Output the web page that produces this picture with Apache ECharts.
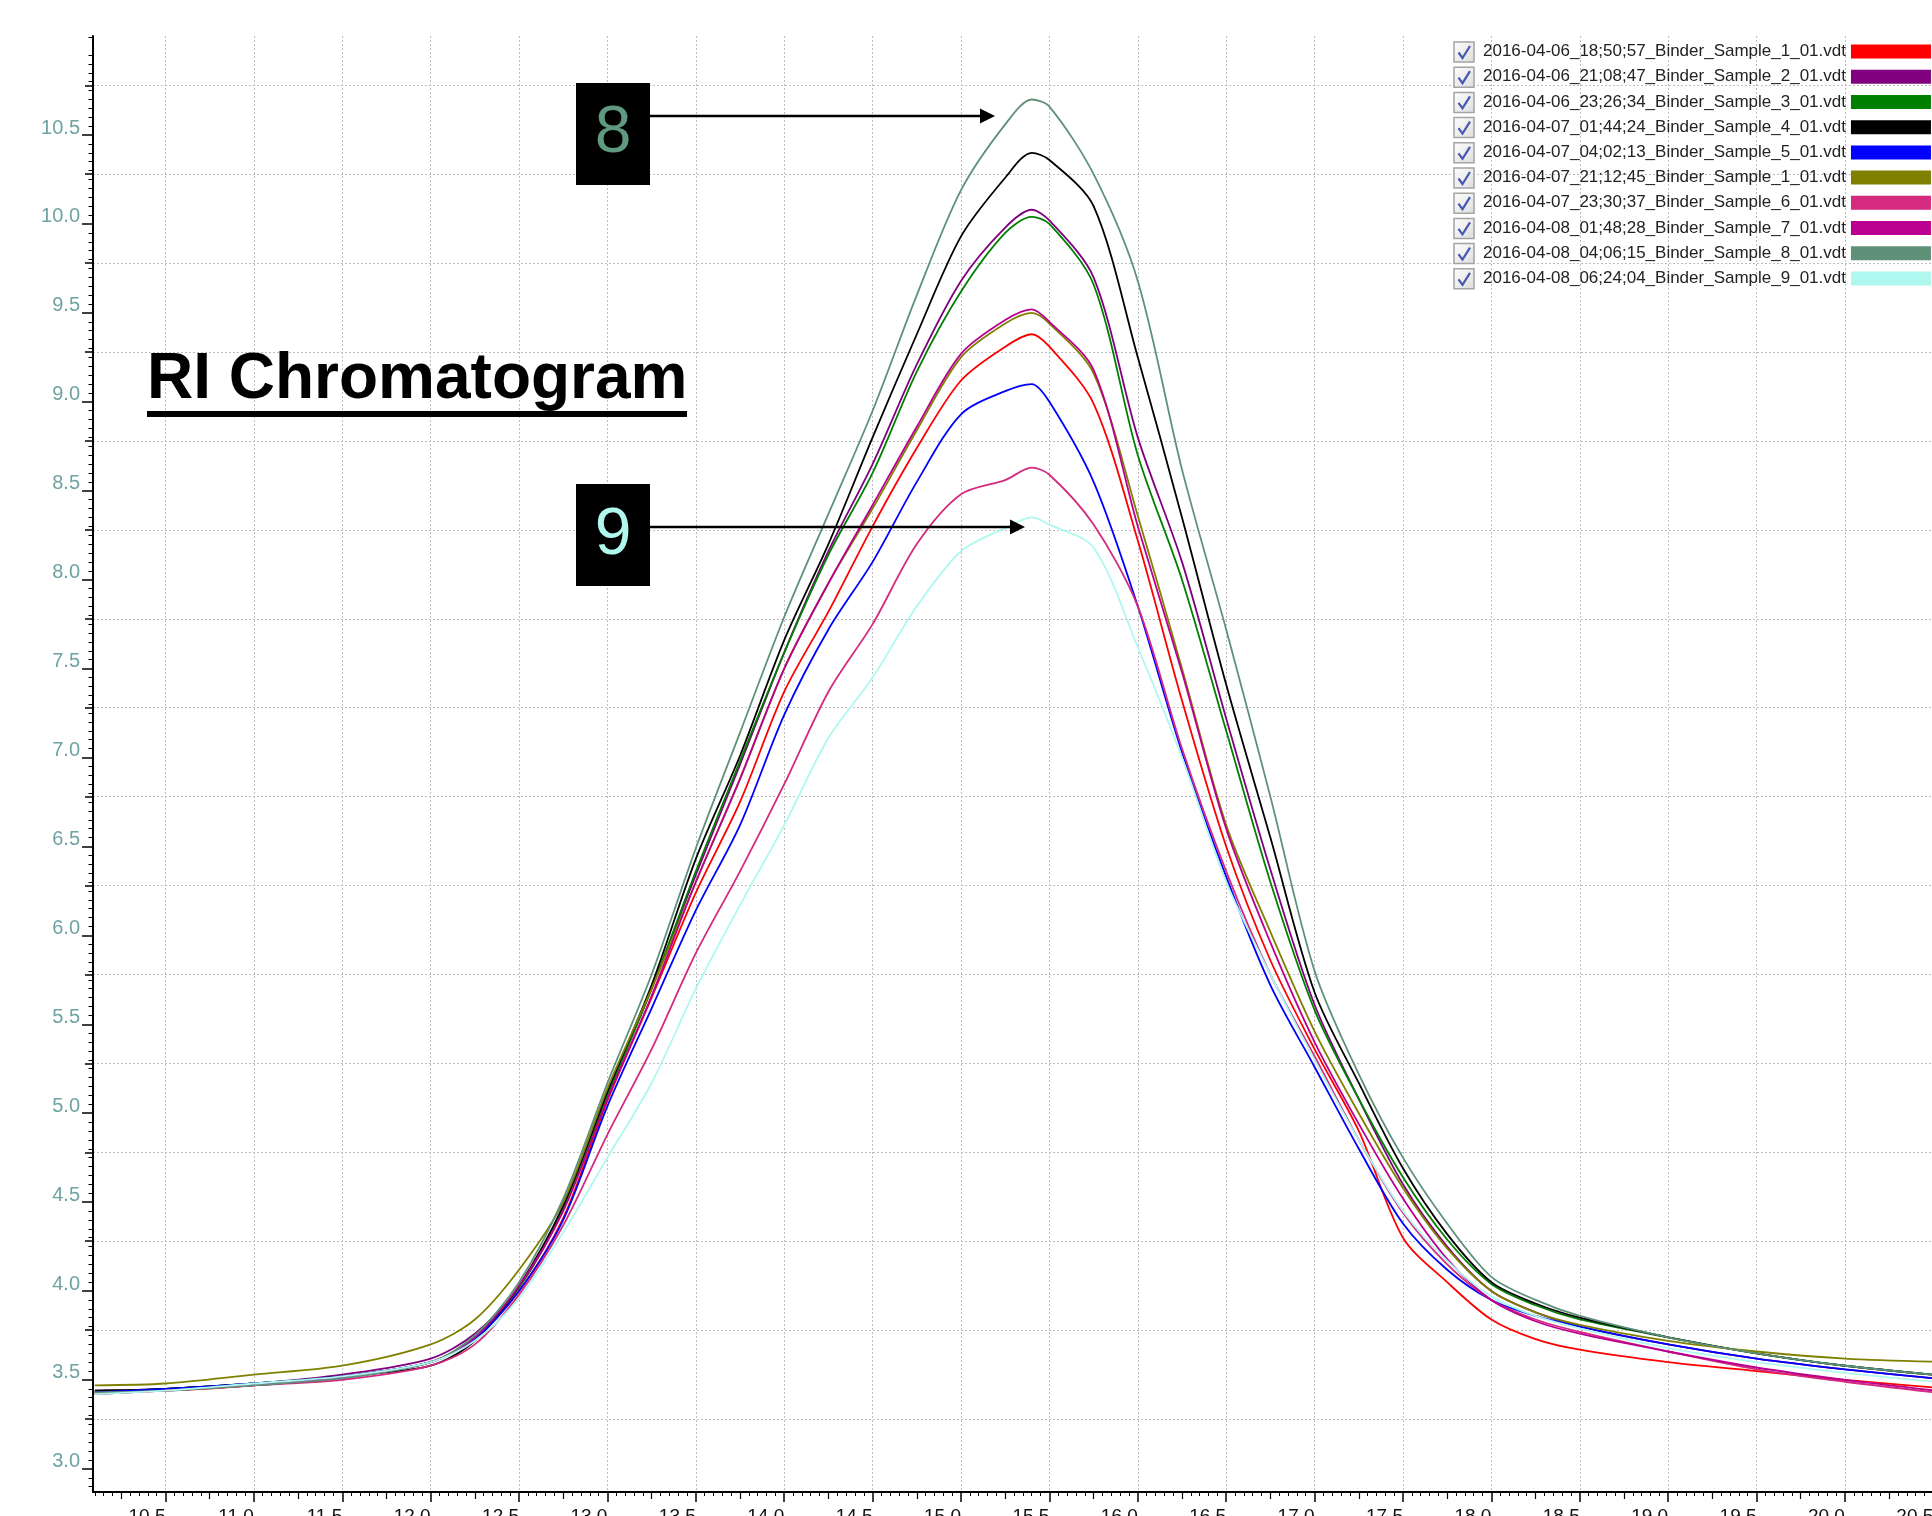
<!DOCTYPE html>
<html lang="en">
<head>
<meta charset="UTF-8">
<title>RI Chromatogram</title>
<style>
    html, body { margin: 0; padding: 0; background: #fff; overflow: hidden; }
    #chart { width: 1932px; height: 1516px; }
</style>
</head>
<body>
<div id="chart"></div>
<script src="https://cdn.jsdelivr.net/npm/echarts@6/dist/echarts.min.js"></script>
<script>
// retention time (x) sample points
const times = [10.1, 10.5, 11.0, 11.5, 12.0, 12.25, 12.5, 12.75, 13.0, 13.25, 13.5, 13.75, 14.0, 14.25, 14.5, 14.75,
    15.0, 15.25, 15.4, 15.5, 15.75, 16.0, 16.25, 16.5, 16.75, 17.0, 17.25, 17.5, 17.75, 18.0, 18.25, 18.5, 19.0, 19.5, 20.0, 20.6];

const s1a = [3.43, 3.44, 3.47, 3.52, 3.60, 3.74, 4.00, 4.41, 5.07, 5.65, 6.24, 6.75, 7.37, 7.82, 8.30, 8.74,
    9.12, 9.31, 9.38, 9.31, 8.99, 8.22, 7.32, 6.50, 5.86, 5.36, 4.90, 4.30, 4.05, 3.84, 3.73, 3.67, 3.60, 3.55, 3.50, 3.45];
const s2 = [3.44, 3.45, 3.48, 3.53, 3.62, 3.76, 4.02, 4.46, 5.10, 5.70, 6.34, 6.96, 7.59, 8.16, 8.65, 9.21,
    9.68, 9.98, 10.08, 10.02, 9.70, 8.80, 8.10, 7.22, 6.37, 5.61, 5.08, 4.60, 4.25, 4.00, 3.88, 3.80, 3.70, 3.62, 3.56, 3.50];
const s3 = [3.43, 3.45, 3.48, 3.52, 3.60, 3.74, 4.02, 4.46, 5.10, 5.70, 6.36, 6.98, 7.59, 8.14, 8.60, 9.17,
    9.62, 9.95, 10.04, 10.00, 9.66, 8.70, 8.00, 7.15, 6.30, 5.58, 5.08, 4.64, 4.29, 4.04, 3.92, 3.84, 3.74, 3.65, 3.58, 3.52];
const s4 = [3.44, 3.45, 3.48, 3.52, 3.58, 3.72, 4.03, 4.48, 5.12, 5.72, 6.43, 7.01, 7.66, 8.20, 8.80, 9.38,
    9.93, 10.26, 10.40, 10.36, 10.10, 9.25, 8.35, 7.41, 6.55, 5.68, 5.17, 4.69, 4.32, 4.05, 3.93, 3.85, 3.74, 3.65, 3.58, 3.52];
const s5 = [3.43, 3.45, 3.48, 3.52, 3.60, 3.73, 4.00, 4.40, 5.04, 5.59, 6.14, 6.62, 7.24, 7.72, 8.10, 8.55,
    8.93, 9.06, 9.10, 9.00, 8.55, 7.85, 7.03, 6.33, 5.72, 5.26, 4.80, 4.38, 4.12, 3.95, 3.86, 3.80, 3.70, 3.62, 3.56, 3.50];
const s1b = [3.47, 3.48, 3.53, 3.58, 3.70, 3.84, 4.12, 4.50, 5.14, 5.70, 6.30, 6.88, 7.50, 7.98, 8.40, 8.84,
    9.25, 9.44, 9.50, 9.44, 9.16, 8.36, 7.50, 6.62, 6.02, 5.46, 5.00, 4.58, 4.24, 4.00, 3.88, 3.81, 3.72, 3.66, 3.62, 3.60];
const s6 = [3.42, 3.44, 3.47, 3.50, 3.58, 3.70, 3.98, 4.37, 4.88, 5.36, 5.90, 6.36, 6.85, 7.37, 7.75, 8.20,
    8.48, 8.56, 8.63, 8.59, 8.31, 7.85, 7.05, 6.36, 5.78, 5.32, 4.85, 4.44, 4.15, 3.95, 3.84, 3.77, 3.66, 3.56, 3.49, 3.42];
const s7 = [3.42, 3.44, 3.47, 3.51, 3.60, 3.74, 4.03, 4.45, 5.08, 5.66, 6.30, 6.88, 7.50, 7.98, 8.42, 8.86,
    9.27, 9.46, 9.52, 9.45, 9.18, 8.30, 7.48, 6.60, 5.96, 5.40, 4.94, 4.52, 4.18, 3.95, 3.83, 3.76, 3.66, 3.57, 3.50, 3.43];
const s8 = [3.43, 3.44, 3.47, 3.51, 3.60, 3.75, 4.05, 4.52, 5.17, 5.78, 6.49, 7.14, 7.79, 8.37, 8.95, 9.60,
    10.19, 10.56, 10.70, 10.66, 10.28, 9.68, 8.62, 7.72, 6.78, 5.80, 5.22, 4.75, 4.38, 4.08, 3.95, 3.86, 3.74, 3.65, 3.58, 3.52];
const s9 = [3.42, 3.44, 3.48, 3.52, 3.60, 3.72, 3.96, 4.33, 4.75, 5.17, 5.70, 6.17, 6.62, 7.11, 7.45, 7.85,
    8.16, 8.29, 8.35, 8.31, 8.18, 7.62, 7.00, 6.30, 5.78, 5.30, 4.85, 4.45, 4.17, 3.97, 3.86, 3.79, 3.68, 3.60, 3.54, 3.48];

const seriesNames = [
    '2016-04-06_18;50;57_Binder_Sample_1_01.vdt',
    '2016-04-06_21;08;47_Binder_Sample_2_01.vdt',
    '2016-04-06_23;26;34_Binder_Sample_3_01.vdt',
    '2016-04-07_01;44;24_Binder_Sample_4_01.vdt',
    '2016-04-07_04;02;13_Binder_Sample_5_01.vdt',
    '2016-04-07_21;12;45_Binder_Sample_1_01.vdt',
    '2016-04-07_23;30;37_Binder_Sample_6_01.vdt',
    '2016-04-08_01;48;28_Binder_Sample_7_01.vdt',
    '2016-04-08_04;06;15_Binder_Sample_8_01.vdt',
    '2016-04-08_06;24;04_Binder_Sample_9_01.vdt'
];
const seriesValues = [s1a, s2, s3, s4, s5, s1b, s6, s7, s8, s9];
const seriesColors = ['#ff0000', '#800080', '#008000', '#000000', '#0000ff',
    '#808000', '#d42a7f', '#bb0090', '#5f9179', '#aef8ef'];

// tick labels
const yLabelTicks = [3.0, 3.5, 4.0, 4.5, 5.0, 5.5, 6.0, 6.5, 7.0, 7.5, 8.0, 8.5, 9.0, 9.5, 10.0, 10.5];
const yGridTicks = [3.28, 3.78, 4.28, 4.78, 5.28, 5.78, 6.28, 6.78, 7.28, 7.78, 8.28, 8.78, 9.28, 9.78, 10.28, 10.78];
const xLabelTicks = [10.5, 11.0, 11.5, 12.0, 12.5, 13.0, 13.5, 14.0, 14.5, 15.0, 15.5, 16.0, 16.5, 17.0, 17.5,
    18.0, 18.5, 19.0, 19.5, 20.0, 20.5];
const xMidTicks = [10.25, 10.75, 11.25, 11.75, 12.25, 12.75, 13.25, 13.75, 14.25, 14.75, 15.25, 15.75, 16.25,
    16.75, 17.25, 17.75, 18.25, 18.75, 19.25, 19.75, 20.25];

const FONT = "'Liberation Sans', Arial, sans-serif";
const X_MIN = 10.09, X_MAX = 20.6, Y_MIN = 2.87, Y_MAX = 11.057;

let myChart = echarts.init(document.getElementById('chart'));

let series = seriesValues.map((vals, i) => ({
    name: seriesNames[i],
    type: 'line',
    data: times.map((t, k) => [t, vals[k]]),
    showSymbol: false,
    smooth: 0.3,
    color: seriesColors[i],
    lineStyle: { width: 1.8 },
    emphasis: { disabled: true }
}));

// legend check boxes
let boxes = [];
for (let i = 0; i < seriesNames.length; i++) {
    let c = 52 + 25.2 * i;
    boxes.push({
        type: 'rect', z: 100,
        shape: { x: 1454, y: c - 10, width: 20, height: 20 },
        style: {
            fill: new echarts.graphic.LinearGradient(0, 0, 1, 1, [
                { offset: 0, color: '#ffffff' }, { offset: 1, color: '#dcdcdc' }
            ]),
            stroke: '#a4a4a4', lineWidth: 1.5
        }
    });
    boxes.push({
        type: 'polyline', z: 101,
        shape: { points: [[1458.5, c + 0.5], [1462.5, c + 6], [1470, c - 6]] },
        style: { stroke: '#4658b0', lineWidth: 2.2, fill: null }
    });
}

let notes = [
    // title
    { type: 'text', z: 100, x: 147, y: 380, style: { text: 'RI Chromatogram', font: 'bold 64px ' + FONT, fill: '#000', verticalAlign: 'middle' } },
    { type: 'rect', z: 100, shape: { x: 147, y: 411, width: 540, height: 6 }, style: { fill: '#000' } },
    // 8 marker
    { type: 'rect', z: 100, shape: { x: 576, y: 83, width: 74, height: 102 }, style: { fill: '#000' } },
    { type: 'text', z: 101, x: 613, y: 134, style: { text: '8', font: '66px ' + FONT, fill: '#5f9a80', align: 'center', verticalAlign: 'middle' } },
    { type: 'line', z: 100, shape: { x1: 650, y1: 116, x2: 982, y2: 116 }, style: { stroke: '#000', lineWidth: 2.5 } },
    { type: 'polygon', z: 100, shape: { points: [[995, 116], [980, 108.5], [980, 123.5]] }, style: { fill: '#000' } },
    // 9 marker
    { type: 'rect', z: 100, shape: { x: 576, y: 484, width: 74, height: 102 }, style: { fill: '#000' } },
    { type: 'text', z: 101, x: 613, y: 536, style: { text: '9', font: '66px ' + FONT, fill: '#b0f8ee', align: 'center', verticalAlign: 'middle' } },
    { type: 'line', z: 100, shape: { x1: 650, y1: 527, x2: 1012, y2: 527 }, style: { stroke: '#000', lineWidth: 2.5 } },
    { type: 'polygon', z: 100, shape: { points: [[1025, 527], [1010, 519.5], [1010, 534.5]] }, style: { fill: '#000' } }
];

let gridLine = { show: true, lineStyle: { color: '#bdbdbd', width: 1, type: [2, 2] } };

let option = {
    animation: false,
    textStyle: { fontFamily: FONT },
    grid: { left: 93, top: 36, width: 1858, height: 1456, containLabel: false, outerBoundsMode: 'none' },
    legend: {
        orient: 'vertical',
        left: 1483,
        top: 43,
        padding: 0,
        itemGap: 8,
        itemWidth: 80,
        itemHeight: 14,
        align: 'right',
        icon: 'rect',
        selectedMode: false,
        textStyle: { fontSize: 17, color: '#222', lineHeight: 17.2, fontFamily: FONT },
        data: seriesNames
    },
    xAxis: [
        {
            type: 'value', min: X_MIN, max: X_MAX, position: 'bottom', splitNumber: 20,
            axisLine: { show: true, lineStyle: { color: '#000', width: 2 } },
            axisTick: { show: true, customValues: xLabelTicks, length: 10, lineStyle: { color: '#000', width: 1.5 } },
            minorTick: { show: true, splitNumber: 10, length: 4, lineStyle: { color: '#000', width: 1 } },
            axisLabel: {
                customValues: xLabelTicks, align: 'right', margin: 15, fontSize: 19, color: '#111',
                formatter: v => v.toFixed(1)
            },
            splitLine: gridLine
        },
        {
            type: 'value', min: X_MIN, max: X_MAX, position: 'bottom',
            axisLine: { show: false },
            axisTick: { show: true, customValues: xMidTicks, length: 7, lineStyle: { color: '#000', width: 1.2 } },
            axisLabel: { show: false },
            splitLine: { show: false }
        }
    ],
    yAxis: [
        {
            type: 'value', min: Y_MIN, max: Y_MAX, position: 'left', splitNumber: 16,
            axisLine: { show: true, lineStyle: { color: '#000', width: 2 } },
            axisTick: { show: true, customValues: yLabelTicks, length: 11, lineStyle: { color: '#000', width: 1.5 } },
            minorTick: { show: true, splitNumber: 10, length: 4.5, lineStyle: { color: '#000', width: 1 } },
            axisLabel: {
                customValues: yLabelTicks, margin: 13, fontSize: 20, color: '#6fa2a3',
                verticalAlign: 'bottom', lineHeight: 14,
                formatter: v => v.toFixed(1)
            },
            splitLine: { show: false }
        },
        {
            type: 'value', min: Y_MIN, max: Y_MAX, position: 'left',
            axisLine: { show: false },
            axisTick: { show: true, customValues: yGridTicks, length: 8, lineStyle: { color: '#000', width: 1.5 } },
            axisLabel: { show: false },
            splitLine: gridLine
        }
    ],
    graphic: [
        { type: 'group', z: 100, children: boxes },
        { type: 'group', z: 100, children: notes }
    ],
    series: series
};

myChart.setOption(option);
</script>
</body>
</html>
